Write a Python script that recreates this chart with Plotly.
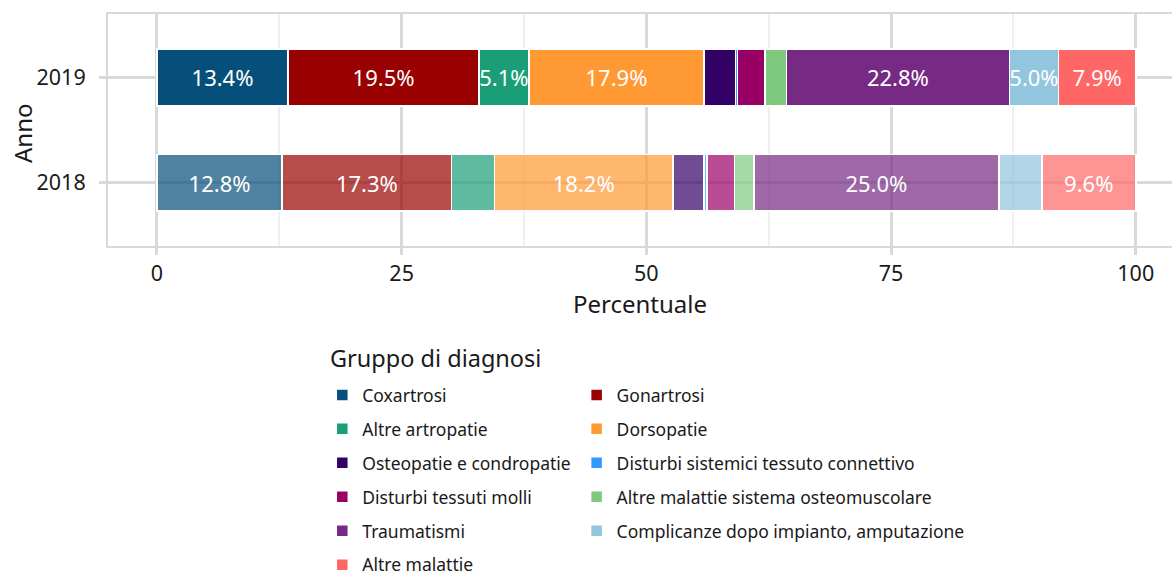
import plotly.graph_objects as go

# ---------------- data ----------------
categories = [
    "Coxartrosi",
    "Gonartrosi",
    "Altre artropatie",
    "Dorsopatie",
    "Osteopatie e condropatie",
    "Disturbi sistemici tessuto connettivo",
    "Disturbi tessuti molli",
    "Altre malattie sistema osteomuscolare",
    "Traumatismi",
    "Complicanze dopo impianto, amputazione",
    "Altre malattie",
]
years = ["2019", "2018"]
values_2019 = [13.4, 19.5, 5.1, 17.9, 3.2, 0.2, 2.8, 2.2, 22.8, 5.0, 7.9]
values_2018 = [12.8, 17.3, 4.4, 18.2, 3.2, 0.3, 2.8, 2.0, 25.0, 4.4, 9.6]
colors = [
    "#054F7A", "#990000", "#1B9E77", "#FF9933", "#330066", "#3399FF",
    "#990066", "#7FC97F", "#762A83", "#92C5DE", "#FF6666",
]
year_order = ["2018", "2019"]
x_tick_vals = [0, 25, 50, 75, 100]
legend_title = "Gruppo di diagnosi"
x_title = "Percentuale"
y_title = "Anno"

FONT = "Noto Sans"
GRID = "#d9d9d9"
MINOR = "#efefef"
TXT = "#1a1a1a"


def rgba(h, a):
    h = h.lstrip("#")
    r, g, b = int(h[0:2], 16), int(h[2:4], 16), int(h[4:6], 16)
    return f"rgba({r},{g},{b},{a})"


fig = go.Figure()
for i, cat in enumerate(categories):
    vals = [values_2019[i], values_2018[i]]
    fig.add_trace(go.Bar(
        y=years,
        x=vals,
        orientation="h",
        name=cat,
        marker=dict(color=[rgba(colors[i], 1), rgba(colors[i], 0.7)],
                    line=dict(color="white", width=1.5)),
        text=[f"{v:.1f}%" if v >= 5 else "" for v in vals],
        textposition="inside",
        insidetextanchor="middle",
        textangle=0,
        constraintext="none",
        insidetextfont=dict(color="white", size=22, family=FONT),
        width=0.54,
        legend="legend" if i % 2 == 0 else "legend2",
        legendgroup=cat,
        hoverinfo="x+y+name",
    ))

fig.update_layout(
    width=1172,
    height=574,
    barmode="stack",
    margin=dict(l=108, r=0, t=14, b=328, autoexpand=False),
    plot_bgcolor="white",
    paper_bgcolor="white",
    font=dict(family=FONT, color=TXT),
    xaxis=dict(
        range=[-5, 103.7],
        tickvals=x_tick_vals,
        showgrid=True, gridcolor=GRID, gridwidth=3,
        minor=dict(tickmode="array", tickvals=[12.5, 37.5, 62.5, 87.5],
                   showgrid=True, gridcolor=MINOR, gridwidth=1.5, ticks=""),
        ticks="outside", ticklen=7, tickwidth=3, tickcolor=GRID,
        showline=True, mirror=True, linecolor=GRID, linewidth=2,
        zeroline=False,
        automargin=False,
        tickfont=dict(size=21.5, color=TXT),
        title=dict(text=x_title, font=dict(size=24, color=TXT), standoff=1),
    ),
    yaxis=dict(
        type="category",
        categoryorder="array",
        categoryarray=year_order,
        range=[-0.6, 1.6],
        showgrid=True, gridcolor=GRID, gridwidth=3,
        ticks="outside", ticklen=7, tickwidth=3, tickcolor=GRID,
        showline=True, mirror=False, linecolor=GRID, linewidth=2,
        zeroline=False,
        automargin=False,
        tickfont=dict(size=21.5, color=TXT),
        ticklabelstandoff=9,
    ),
    legend=dict(
        xref="container", yref="container",
        x=0.275, y=1 - 377 / 574, xanchor="left", yanchor="top",
        orientation="v",
        font=dict(size=17.5, color=TXT),
        tracegroupgap=8.2,
        bgcolor="rgba(0,0,0,0)",
    ),
    legend2=dict(
        xref="container", yref="container",
        x=0.492, y=1 - 377 / 574, xanchor="left", yanchor="top",
        orientation="v",
        font=dict(size=17.5, color=TXT),
        tracegroupgap=8.2,
        bgcolor="rgba(0,0,0,0)",
    ),
    annotations=[
        dict(
            text=legend_title, xref="paper", yref="paper",
            x=(328 - 108) / 1064, y=-(358 - 246) / 232,
            xanchor="left", yanchor="middle", showarrow=False,
            font=dict(size=23.5, color=TXT),
        ),
        dict(
            text=y_title, xref="paper", yref="paper",
            x=(22 - 108) / 1064, y=(246 - 133) / 232,
            xanchor="center", yanchor="middle", showarrow=False,
            textangle=-90,
            font=dict(size=24, color=TXT),
        ),
    ],
)

fig.write_html(
    "out.html",
    config={"displayModeBar": False},
    post_script="document.body.style.margin='0';document.body.style.padding='0';",
)
